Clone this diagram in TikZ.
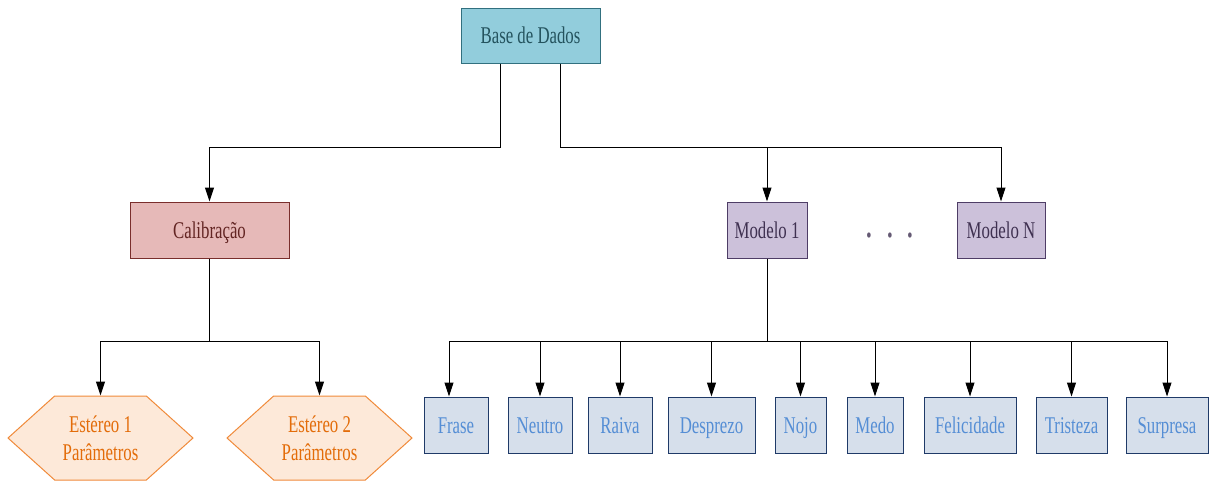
\documentclass[tikz,border=0pt]{standalone}
\usepackage{fontspec}
\setmainfont{Liberation Serif}[FakeStretch=0.7]
\usetikzlibrary{arrows.meta, shapes.symbols}
\definecolor{dbfill}{HTML}{92CDDC}
\definecolor{dbline}{HTML}{31707F}
\definecolor{dbtext}{HTML}{24535E}
\definecolor{cafill}{HTML}{E6B9B8}
\definecolor{caline}{HTML}{7A2E2C}
\definecolor{catext}{HTML}{632523}
\definecolor{mofill}{HTML}{CCC1DA}
\definecolor{moline}{HTML}{4E3D66}
\definecolor{motext}{HTML}{3F3151}
\definecolor{emfill}{HTML}{D6DFEB}
\definecolor{emline}{HTML}{1F3A68}
\definecolor{emtext}{HTML}{558ED5}
\definecolor{stfill}{HTML}{FDE9D9}
\definecolor{stline}{HTML}{F08A3A}
\definecolor{sttext}{HTML}{E36C09}

\tikzset{
  box/.style={draw, line width=1pt, minimum height=56pt, inner sep=0pt,
    text height=18pt, text depth=2pt},
  emo/.style={box, fill=emfill, draw=emline, text=emtext},
  model/.style={box, fill=mofill, draw=moline, text=motext},
  hexa/.style={signal, signal to=west and east, signal pointer angle=84,
    draw=stline, fill=stfill, text=sttext, line width=1pt, align=center,
    minimum width=185pt, minimum height=84pt, inner sep=0pt},
  arr/.style={-{Triangle[length=14pt,width=9pt]}, line width=1pt},
}

\begin{document}
\begin{tikzpicture}[x=1pt, y=-1pt, font=\fontsize{24}{28}\selectfont]
\useasboundingbox (0,0) rectangle (1209,480);
% upper levels
\node[box, fill=dbfill, draw=dbline, text=dbtext, minimum width=139pt, minimum height=55pt] (base) at (530.5,35.5) {Base de Dados};
\node[box, fill=cafill, draw=caline, text=catext, minimum width=159pt] (calib) at (209.5,230) {Calibração};
\node[model, minimum width=80pt] (mod1) at (767,230) {Modelo 1};
\node[model, minimum width=88pt] (modN) at (1001,230) {Modelo N};
\node[text=motext!80, font=\fontsize{44}{44}\selectfont] (dots) at (890,236) {.\hspace{13pt}.\hspace{13pt}.};
% calibration outputs
\node[hexa] (st1) at (100.5,438) {Estéreo 1\\Parâmetros};
\node[hexa] (st2) at (319.5,438) {Estéreo 2\\Parâmetros};
% emotions
\node[emo, minimum width=64pt] (frase) at (456,425) {Frase};
\node[emo, minimum width=64pt] (neutro) at (540,425) {Neutro};
\node[emo, minimum width=64pt] (raiva) at (620,425) {Raiva};
\node[emo, minimum width=87pt] (desprezo) at (711.5,425) {Desprezo};
\node[emo, minimum width=51pt] (nojo) at (800.5,425) {Nojo};
\node[emo, minimum width=56pt] (medo) at (875,425) {Medo};
\node[emo, minimum width=92pt] (felicidade) at (970,425) {Felicidade};
\node[emo, minimum width=71pt] (tristeza) at (1071.5,425) {Tristeza};
\node[emo, minimum width=82pt] (surpresa) at (1167,425) {Surpresa};
% connectors
\coordinate (split) at (0,147);
\coordinate (cbus) at (0,341);
\coordinate (mbus) at (0,341);
\draw[arr] ([xshift=-30.5pt]base.south) |- (calib.north |- split) -- (calib.north);
\draw[arr] ([xshift=29.5pt]base.south) |- (modN.north |- split) -- (modN.north);
\draw[arr] (mod1.north |- split) -- (mod1.north);
\draw[arr] (calib.south) -- (calib.south |- cbus) -| (st1.north);
\draw[arr] (calib.south |- cbus) -| (st2.north);
\draw[line width=1pt] (mod1.south) -- (mod1.south |- mbus);
\draw[line width=1pt] ([xshift=-7pt]frase.north |- mbus) -- (surpresa.north |- mbus);
\draw[arr] ([xshift=-7pt]frase.north |- mbus) -- ([xshift=-7pt]frase.north);
\foreach \e in {neutro,raiva,desprezo,nojo,medo,felicidade,tristeza,surpresa}
  \draw[arr] (\e.north |- mbus) -- (\e.north);
\end{tikzpicture}
\end{document}
